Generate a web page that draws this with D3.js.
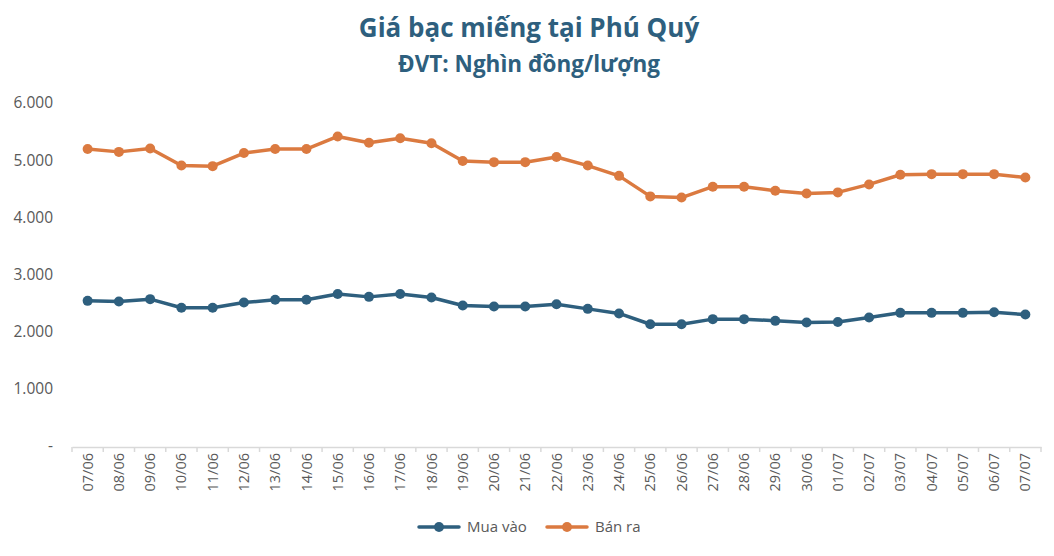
<!DOCTYPE html>
<html>
<head>
<meta charset="utf-8">
<script src="https://cdn.jsdelivr.net/npm/d3@7"></script>
<style>
  body { margin: 0; background: #fff; }
  text { font-family: "Open Sans", "Noto Sans", sans-serif; }
</style>
</head>
<body>
<div id="chart"></div>
<script>
var dates = ["07/06", "08/06", "09/06", "10/06", "11/06", "12/06", "13/06", "14/06",
  "15/06", "16/06", "17/06", "18/06", "19/06", "20/06", "21/06", "22/06", "23/06",
  "24/06", "25/06", "26/06", "27/06", "28/06", "29/06", "30/06", "01/07", "02/07",
  "03/07", "04/07", "05/07", "06/07", "07/07"];

// Mua vào
var buyPrices = [2560, 2550, 2590, 2440, 2440, 2530, 2580, 2580, 2680, 2630, 2680,
  2620, 2480, 2460, 2460, 2500, 2420, 2340, 2150, 2150, 2240, 2240, 2210, 2180,
  2190, 2270, 2350, 2350, 2350, 2360, 2320];

// Bán ra
var sellPrices = [5220, 5170, 5230, 4930, 4920, 5150, 5220, 5220, 5440, 5330, 5410,
  5320, 5010, 4990, 4990, 5080, 4930, 4750, 4390, 4370, 4560, 4560, 4490, 4440,
  4460, 4600, 4770, 4780, 4780, 4780, 4720];

var yTicks = [0, 1000, 2000, 3000, 4000, 5000, 6000];

var seriesNames = ["Mua vào", "Bán ra"];
var colors = ["#2E5F7E", "#DB7A40"];

var svgWidth = 1054;
var svgHeight = 556;

var margin = { top: 104.5, right: 13, bottom: 109, left: 72 };

var svg = d3.select("#chart")
  .append("svg")
  .attr("width", svgWidth)
  .attr("height", svgHeight);

var x = d3.scaleBand()
  .domain(dates)
  .range([margin.left, svgWidth - margin.right])
  .padding(0);

var y = d3.scaleLinear()
  .domain([0, 6000])
  .range([svgHeight - margin.bottom, margin.top]);

var fmt = function(v) {
  return v === 0 ? "-" : d3.format(",")(v).replace(/,/g, ".");
};

// Title
svg.append("text")
  .attr("x", 529)
  .attr("y", 37)
  .attr("text-anchor", "middle")
  .attr("font-size", "26px")
  .attr("font-weight", "700")
  .attr("fill", "#2E5F7E")
  .text("Giá bạc miếng tại Phú Quý");

svg.append("text")
  .attr("x", 529)
  .attr("y", 72)
  .attr("text-anchor", "middle")
  .attr("font-size", "22.5px")
  .attr("font-weight", "700")
  .attr("fill", "#2E5F7E")
  .text("ĐVT: Nghìn đồng/lượng");

// Y axis labels
var leftAxis = d3.axisLeft(y)
  .tickValues(yTicks)
  .tickFormat(fmt)
  .tickSize(0)
  .tickPadding(0);

var yAxisG = svg.append("g")
  .attr("transform", "translate(53, 0)")
  .call(leftAxis);
yAxisG.select(".domain").remove();
yAxisG.selectAll("text")
  .attr("font-size", "15.5px")
  .attr("fill", "#595959")
  .attr("y", -1.5)
  .attr("dy", "0.32em");

// X axis
var bottomAxis = d3.axisBottom(x).tickSize(0);
var xAxisG = svg.append("g")
  .attr("transform", `translate(0, ${y(0)})`)
  .call(bottomAxis);
xAxisG.select(".domain")
  .attr("stroke", "#D9D9D9")
  .attr("stroke-width", 1.5);
xAxisG.selectAll("text")
  .attr("font-size", "14.5px")
  .attr("fill", "#595959")
  .attr("text-anchor", "end")
  .attr("transform", "rotate(-90)")
  .attr("x", -6)
  .attr("y", 0)
  .attr("dy", "0.35em");

// boundary ticks between categories
var boundaries = dates.map(d => x(d)).concat([x(dates[dates.length - 1]) + x.bandwidth()]);
xAxisG.selectAll(".btick")
  .data(boundaries)
  .enter()
  .append("line")
  .attr("class", "btick")
  .attr("x1", d => d)
  .attr("x2", d => d)
  .attr("y1", 0)
  .attr("y2", 5)
  .attr("stroke", "#D9D9D9")
  .attr("stroke-width", 1.5);

// Lines
var series = [buyPrices, sellPrices];
var line = d3.line()
  .x((d, i) => x(dates[i]) + x.bandwidth() / 2)
  .y(d => y(d));

series.forEach(function(values, s) {
  svg.append("path")
    .datum(values)
    .attr("fill", "none")
    .attr("stroke", colors[s])
    .attr("stroke-width", 3.5)
    .attr("stroke-linejoin", "round")
    .attr("d", line);

  svg.selectAll(".dot" + s)
    .data(values)
    .enter()
    .append("circle")
    .attr("class", "dot" + s)
    .attr("cx", (d, i) => x(dates[i]) + x.bandwidth() / 2)
    .attr("cy", d => y(d))
    .attr("r", 5)
    .attr("fill", colors[s]);
});

// Legend
var legendX = [419, 547];
seriesNames.forEach(function(name, s) {
  var g = svg.append("g")
    .attr("transform", `translate(${legendX[s]}, 527)`);
  g.append("line")
    .attr("x1", 0)
    .attr("x2", 40)
    .attr("stroke", colors[s])
    .attr("stroke-width", 3.5)
    .attr("stroke-linecap", "round");
  g.append("circle")
    .attr("cx", 20)
    .attr("r", 5)
    .attr("fill", colors[s]);
  g.append("text")
    .attr("x", 48)
    .attr("dy", "0.35em")
    .attr("font-size", "15px")
    .attr("fill", "#595959")
    .text(name);
});
</script>
</body>
</html>
